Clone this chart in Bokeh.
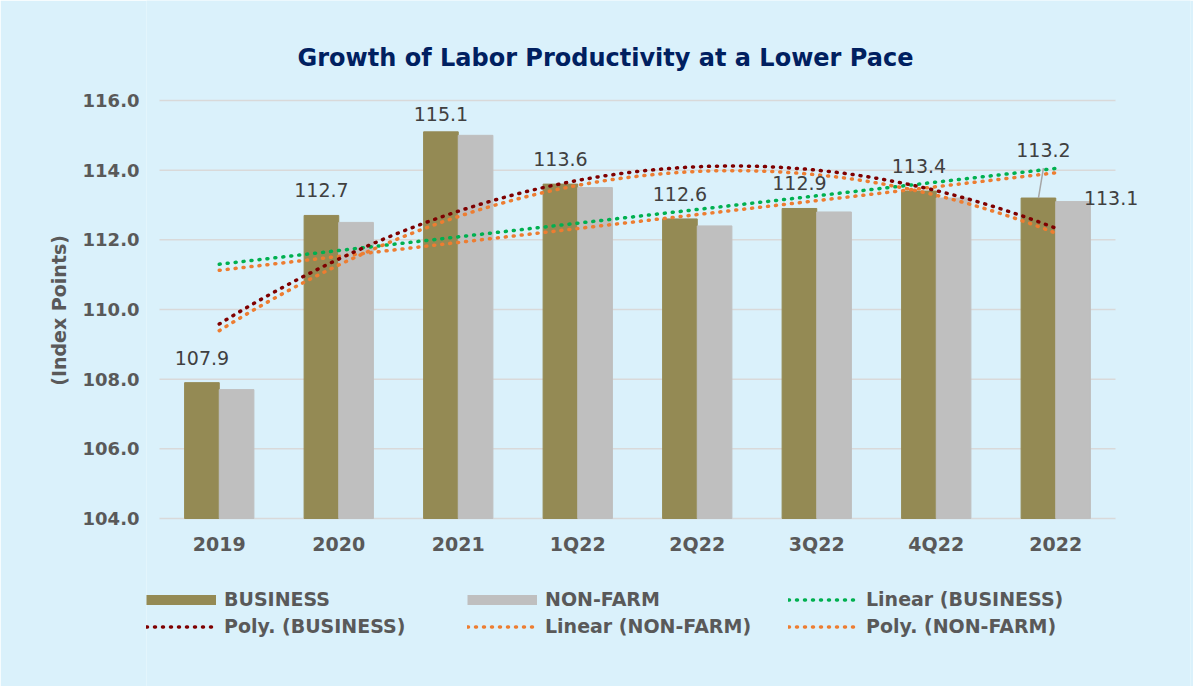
import numpy as np
from bokeh.plotting import figure
from bokeh.models import (ColumnDataSource, Range1d, FixedTicker, Legend,
                          LegendItem, NumeralTickFormatter)
from bokeh.embed import file_html
from bokeh.resources import INLINE
from bokeh.core.properties import value

# ---------------- data ----------------
categories = ["2019", "2020", "2021", "1Q22", "2Q22", "3Q22", "4Q22", "2022"]
business = [107.9, 112.7, 115.1, 113.6, 112.6, 112.9, 113.4, 113.2]
non_farm = [107.7, 112.5, 115.0, 113.5, 112.4, 112.8, 113.2, 113.1]
y_ticks = [104, 106, 108, 110, 112, 114, 116]
title_text = "Growth of Labor Productivity at a Lower Pace"
y_title = "(Index Points)"

# ---------------- style / layout ----------------
BG = "#DAF1FB"
FONT = "DejaVu Sans"
GRAY_TXT = "#595959"
GRID = "#D9D9D9"
C_BUS = "#948A54"
C_NF = "#BFBFBF"
C_GREEN = "#00B050"
C_MAROON = "#7F0000"
C_ORANGE = "#ED7D31"

W, H = 1193, 686
PL, PR = 159, 1115          # pixel extent of the category axis
PB, PT = 518, 100           # pixel extent of the value axis (104 .. 116)
FL, FR = 146, 1190          # frame left / right
n = len(categories)
ppx = (PR - PL) / n
ppy = (PB - PT) / (y_ticks[-1] - y_ticks[0])
x0 = 0.5 - (PL - FL) / ppx
x1 = 0.5 + (FR - PL) / ppx
y0 = y_ticks[0] - (H - PB) / ppy
y1 = y_ticks[0] + PB / ppy
BW = 0.29

x = np.arange(1, n + 1, dtype=float)

p = figure(width=W, height=H, x_range=Range1d(x0, x1), y_range=Range1d(y0, y1),
           output_backend="svg", toolbar_location=None,
           min_border_left=FL, min_border_right=W - FR,
           min_border_top=0, min_border_bottom=0)
p.background_fill_color = BG
p.border_fill_color = BG
p.outline_line_color = None
p.xgrid.visible = False
p.ygrid.visible = False
p.xaxis.visible = False

# gridlines / category axis line
p.segment(x0=[0.5] * len(y_ticks), x1=[n + 0.5] * len(y_ticks), y0=y_ticks, y1=y_ticks,
          line_color=GRID, line_width=1.5)

# bars
p.vbar(x=x - BW / 2, top=business, bottom=y_ticks[0], width=BW, color=C_BUS)
p.vbar(x=x + BW / 2, top=non_farm, bottom=y_ticks[0], width=BW, color=C_NF)

# category labels
p.text(x=x, y=[y_ticks[0]] * n, text=categories, y_offset=25,
       text_align="center", text_baseline="middle", text_font=value(FONT),
       text_font_style="bold", text_font_size="19px", text_color=GRAY_TXT)

# trendlines
xs = np.linspace(1, n, 200)
lin_b = np.polyval(np.polyfit(x, business, 1), xs)
lin_n = np.polyval(np.polyfit(x, non_farm, 1), xs)
pol_b = np.polyval(np.polyfit(x, business, 2), xs)
pol_n = np.polyval(np.polyfit(x, non_farm, 2), xs)
dot = dict(line_width=3.5, line_dash="1 7", line_cap="round")
r_lb = p.line(xs, lin_b, color=C_GREEN, **dot)
r_ln = p.line(xs, lin_n, color=C_ORANGE, **dot)
r_pb = p.line(xs, pol_b, color=C_MAROON, **dot)
r_pn = p.line(xs, pol_n, color=C_ORANGE, **dot)

# data labels
yoff = [-25] * n
yoff[2] = -18
yoff[-1] = -48
xoff = [0] * n
xoff[-1] = 5
lab_src = ColumnDataSource(dict(x=x - BW / 2, y=business,
                                t=[f"{v:.1f}" for v in business],
                                xo=xoff, yo=yoff))
p.text(x="x", y="y", text="t", x_offset="xo", y_offset="yo", source=lab_src,
       text_align="center", text_baseline="middle", text_font=value(FONT),
       text_font_size="19px", text_color="#404040")
p.segment(x0=[x[-1] - BW / 2], y0=[business[-1]],
          x1=[x[-1] - BW / 2 + 5 / ppx], y1=[business[-1] + 30 / ppy],
          line_color="#A6A6A6", line_width=1.5)
p.text(x=[x[-1] + BW / 2], y=[non_farm[-1]], text=[f"{non_farm[-1]:.1f}"],
       x_offset=38, y_offset=-4, text_align="center", text_baseline="middle",
       text_font=value(FONT), text_font_size="19px", text_color="#404040")

# title
p.text(x=[0.5 + (605 - PL) / ppx], y=[y_ticks[0] + (PB - 57) / ppy], text=[title_text],
       text_align="center", text_baseline="middle", text_font=value(FONT),
       text_font_style="bold", text_font_size="24px", text_color="#002060")

# value axis
p.yaxis.ticker = FixedTicker(ticks=y_ticks)
p.yaxis.formatter = NumeralTickFormatter(format="0.0")
p.yaxis.axis_line_color = None
p.yaxis.major_tick_line_color = None
p.yaxis.minor_tick_line_color = None
p.yaxis.major_label_text_font = FONT
p.yaxis.major_label_text_font_style = "bold"
p.yaxis.major_label_text_font_size = "18px"
p.yaxis.major_label_text_color = GRAY_TXT
p.yaxis.major_label_standoff = 1
# the axis title is centred on the full frame; pad its start so it sits
# centred on the 104-116 value span instead
p.yaxis.axis_label = "\u00a0" * 10 + y_title
p.yaxis.axis_label_text_font = FONT
p.yaxis.axis_label_text_font_style = "bold"
p.yaxis.axis_label_text_font_size = "19px"
p.yaxis.axis_label_text_color = GRAY_TXT
p.yaxis.axis_label_standoff = 10

# legend (swatch renderers are single points, so they draw nothing)
sw_b = p.line(x=[1], y=[y_ticks[0]], line_width=10, color=C_BUS)
sw_n = p.line(x=[1], y=[y_ticks[0]], line_width=10, color=C_NF)
legend = Legend(items=[
    LegendItem(label="BUSINESS", renderers=[sw_b]),
    LegendItem(label="NON-FARM", renderers=[sw_n]),
    LegendItem(label="Linear (BUSINESS)", renderers=[r_lb]),
    LegendItem(label="Poly. (BUSINESS)", renderers=[r_pb]),
    LegendItem(label="Linear (NON-FARM)", renderers=[r_ln]),
    LegendItem(label="Poly. (NON-FARM)", renderers=[r_pn]),
], location=(146 - FL, H - 639.5), orientation="horizontal", ncols=3,
    glyph_width=70, glyph_height=27, label_standoff=8, label_width=243,
    spacing=0, padding=0, margin=0, background_fill_alpha=0,
    border_line_color=None, label_text_font=FONT, label_text_font_style="bold",
    label_text_font_size="19px", label_text_color=GRAY_TXT)
p.add_layout(legend)

open("out.html", "w").write(file_html(p, INLINE))
